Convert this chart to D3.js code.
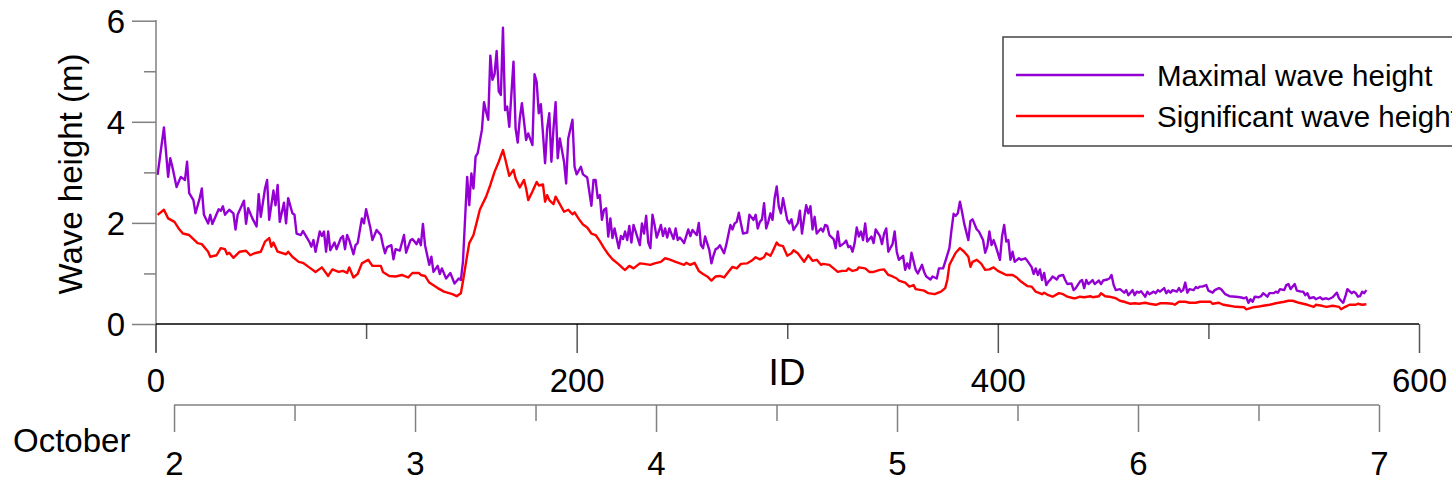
<!DOCTYPE html>
<html>
<head>
<meta charset="utf-8">
<script src="https://cdn.jsdelivr.net/npm/d3@7"></script>
<style>
  html, body { margin: 0; padding: 0; background: #ffffff; }
  svg { display: block; font-family: Arial, "Liberation Sans", Helvetica, sans-serif; }
</style>
</head>
<body>
<svg id="chart" width="1452" height="486"></svg>
<script>
// Wave record: [ID, height in metres]
const maxWaveHeight = [
  [1,2.95],[4,3.89],[6,2.91],[7,3.28],[8,3.11],[10,2.71],[12,2.91],[14,2.85],[15,3.21],[16,2.59],
  [18,2.45],[19,2.19],[21,2.49],[22,2.68],[23,2.16],[25,1.99],[26,2.16],[27,1.98],[30,2.27],[31,2.24],
  [32,2.33],[33,2.16],[35,2.26],[37,2.19],[38,1.87],[39,2.16],[42,2.44],[43,1.98],[44,2.29],[46,2.09],
  [48,1.93],[49,2.57],[50,2.12],[52,2.68],[53,2.85],[54,2.06],[56,2.64],[57,2.35],[58,2.75],[59,2.02],
  [61,2.40],[62,1.99],[63,2.49],[65,2.19],[66,2.16],[67,1.79],[69,1.76],[70,1.84],[73,1.63],[74,1.53],
  [75,1.66],[76,1.43],[78,1.83],[79,1.74],[80,1.83],[81,1.43],[82,1.83],[83,1.46],[85,1.61],[86,1.48],
  [88,1.70],[89,1.74],[90,1.48],[91,1.76],[92,1.66],[94,1.38],[95,1.56],[96,1.60],[98,2.09],[99,1.99],
  [100,2.27],[102,1.91],[103,1.66],[105,1.86],[107,1.76],[108,1.56],[109,1.40],[110,1.52],[112,1.56],[113,1.28],
  [114,1.48],[116,1.45],[118,1.76],[119,1.41],[121,1.65],[122,1.68],[124,1.58],[125,1.68],[126,1.56],[127,1.98],
  [128,1.56],[130,1.17],[131,1.33],[132,1.03],[134,1.15],[135,0.99],[136,1.10],[138,0.90],[140,1.01],[142,0.80],
  [144,0.90],[145,0.87],[146,1.23],[148,2.91],[149,2.35],[150,2.98],[151,2.68],[152,3.31],[153,3.38],[155,3.84],
  [156,4.39],[157,4.20],[158,4.04],[159,5.31],[160,4.83],[161,4.94],[162,5.40],[163,4.60],[164,4.53],[165,5.86],
  [166,4.23],[167,4.30],[168,3.90],[170,5.19],[171,3.87],[172,3.59],[173,4.07],[174,4.37],[176,3.64],[177,3.77],
  [179,3.54],[180,4.94],[181,4.79],[182,4.17],[183,4.35],[185,3.18],[186,3.87],[187,4.17],[188,3.21],[189,3.87],
  [190,4.39],[191,3.28],[192,3.67],[193,3.44],[194,3.21],[195,2.78],[196,3.67],[198,4.04],[199,3.11],[200,2.96],
  [202,3.11],[203,2.96],[205,2.90],[207,2.34],[208,2.85],[209,2.85],[210,2.49],[211,2.55],[212,2.06],[213,2.26],
  [214,2.29],[215,1.73],[216,2.09],[217,1.70],[218,1.89],[220,1.50],[221,1.74],[222,1.68],[223,1.83],[224,1.66],
  [225,1.94],[226,1.61],[227,1.96],[228,1.83],[230,1.56],[231,1.99],[232,1.79],[233,2.14],[234,1.61],[235,1.50],
  [236,2.16],[237,1.96],[238,1.71],[239,1.83],[240,1.96],[241,1.74],[242,1.89],[243,1.71],[244,1.89],[246,1.68],
  [247,1.89],[248,1.66],[249,1.71],[250,1.66],[251,1.60],[253,1.87],[254,1.74],[255,1.86],[257,1.76],[258,2.00],
  [259,1.56],[260,1.50],[261,1.73],[263,1.46],[264,1.20],[265,1.36],[266,1.48],[267,1.50],[268,1.56],[269,1.48],
  [270,1.40],[271,1.56],[273,1.96],[274,1.87],[275,1.99],[276,2.02],[277,2.20],[278,1.99],[279,1.79],[281,1.81],
  [282,2.16],[284,2.06],[285,2.16],[286,1.89],[287,2.02],[288,2.07],[289,2.39],[290,1.89],[291,2.02],[292,2.19],
  [293,2.06],[294,2.49],[295,2.72],[296,2.32],[297,2.19],[298,2.49],[300,2.06],[301,1.99],[302,2.07],[303,1.86],
  [305,1.99],[306,2.24],[307,1.79],[308,2.09],[309,2.35],[310,2.19],[311,2.33],[312,1.87],[313,2.12],[314,1.79],
  [316,1.89],[317,1.83],[318,1.96],[319,1.94],[320,1.76],[322,1.68],[323,1.50],[324,1.83],[325,1.54],[327,1.60],
  [328,1.65],[329,1.52],[330,1.54],[331,1.43],[332,1.60],[333,1.91],[334,1.73],[335,1.83],[336,1.66],[337,1.99],
  [338,1.63],[340,1.73],[341,1.60],[342,1.87],[344,1.74],[345,1.58],[346,1.79],[347,1.89],[348,1.43],[350,1.58],
  [351,1.83],[352,1.43],[353,1.27],[355,1.35],[356,1.07],[357,1.20],[358,1.10],[359,1.41],[361,1.07],[362,1.00],
  [364,1.17],[365,1.03],[366,0.94],[368,0.88],[369,0.94],[371,0.90],[372,1.10],[374,1.10],[375,1.23],[377,1.50],
  [378,1.86],[379,2.18],[380,2.14],[381,2.19],[382,2.42],[383,2.22],[384,1.99],[386,1.66],[387,2.04],[388,2.07],
  [390,1.87],[391,1.83],[393,1.66],[394,1.41],[395,1.53],[396,1.83],[397,1.56],[398,1.66],[399,1.54],[401,1.27],
  [402,1.73],[403,1.96],[404,1.63],[405,1.66],[406,1.27],[407,1.43],[408,1.23],[410,1.30],[411,1.27],[413,1.30],
  [414,1.25],[416,1.13],[417,0.99],[418,1.10],[419,0.97],[420,1.08],[421,0.87],[422,1.01],[423,0.77],[424,0.84],
  [425,0.88],[426,0.94],[428,0.88],[429,0.95],[431,0.97],[432,0.87],[433,0.79],[435,0.80],[436,0.67],[437,0.71],
  [439,0.84],[440,0.87],[441,0.71],[442,0.87],[443,0.79],[445,0.87],[446,0.79],[448,0.86],[449,0.79],[450,0.86],
  [452,0.88],[453,0.90],[454,0.97],[455,0.77],[456,0.67],[458,0.69],[460,0.62],[461,0.67],[462,0.57],[464,0.67],
  [465,0.57],[466,0.64],[467,0.62],[468,0.65],[470,0.54],[471,0.64],[472,0.59],[474,0.64],[475,0.61],[476,0.67],
  [477,0.64],[479,0.71],[480,0.61],[481,0.66],[482,0.62],[483,0.67],[485,0.64],[486,0.71],[487,0.64],[488,0.67],
  [489,0.82],[490,0.62],[491,0.69],[493,0.67],[494,0.73],[495,0.71],[496,0.74],[497,0.74],[499,0.77],[500,0.66],
  [502,0.62],[503,0.67],[505,0.71],[506,0.69],[508,0.59],[510,0.55],[513,0.54],[515,0.53],[517,0.51],[518,0.53],
  [519,0.42],[520,0.49],[521,0.44],[522,0.54],[524,0.53],[525,0.55],[526,0.61],[528,0.54],[529,0.61],[531,0.61],
  [532,0.64],[533,0.62],[534,0.69],[536,0.67],[537,0.77],[538,0.79],[539,0.69],[540,0.74],[541,0.79],[542,0.66],
  [544,0.64],[545,0.64],[546,0.57],[547,0.61],[548,0.51],[550,0.53],[551,0.49],[553,0.53],[554,0.49],[556,0.51],
  [557,0.49],[559,0.53],[561,0.62],[562,0.51],[563,0.46],[564,0.42],[565,0.54],[566,0.69],[568,0.61],[569,0.64],
  [570,0.61],[571,0.54],[572,0.55],[573,0.64],[574,0.61],[575,0.67]
];

const sigWaveHeight = [
  [1,2.16],[4,2.26],[6,2.09],[9,2.02],[11,1.89],[13,1.79],[16,1.76],[20,1.60],[22,1.58],[25,1.43],
  [26,1.33],[29,1.36],[31,1.50],[33,1.48],[34,1.38],[35,1.41],[37,1.31],[40,1.43],[43,1.45],[45,1.36],
  [47,1.40],[50,1.43],[52,1.63],[54,1.70],[55,1.53],[56,1.61],[58,1.43],[62,1.38],[63,1.43],[65,1.33],
  [68,1.23],[70,1.21],[73,1.12],[76,1.03],[79,1.12],[82,0.95],[84,1.08],[87,1.03],[89,1.05],[91,1.01],
  [92,1.12],[94,0.92],[96,0.99],[98,1.20],[101,1.27],[103,1.15],[107,1.15],[108,1.03],[111,0.95],[114,0.94],
  [117,0.97],[120,0.92],[122,1.01],[125,1.01],[126,0.97],[128,0.95],[130,0.82],[134,0.71],[137,0.64],[141,0.59],
  [143,0.55],[145,0.61],[146,0.84],[148,1.36],[149,1.60],[151,1.76],[153,2.09],[154,2.26],[157,2.52],[159,2.75],
  [161,3.01],[163,3.21],[165,3.44],[166,3.28],[168,2.93],[170,3.05],[171,2.88],[173,2.70],[175,2.85],[176,2.68],
  [177,2.45],[179,2.62],[181,2.81],[182,2.74],[184,2.76],[185,2.42],[186,2.55],[187,2.45],[189,2.37],[190,2.52],
  [192,2.37],[194,2.22],[196,2.26],[198,2.17],[199,2.21],[201,2.08],[203,1.97],[205,1.91],[207,1.79],[209,1.76],
  [211,1.64],[213,1.50],[215,1.38],[217,1.28],[220,1.18],[222,1.10],[223,1.07],[225,1.15],[227,1.10],[230,1.20],
  [232,1.19],[235,1.17],[237,1.20],[240,1.23],[242,1.30],[244,1.28],[247,1.23],[249,1.20],[251,1.17],[252,1.21],
  [254,1.17],[256,1.21],[258,1.05],[260,0.99],[262,0.94],[264,0.86],[266,0.94],[268,0.95],[270,0.92],[272,1.03],
  [274,1.13],[276,1.10],[278,1.19],[281,1.20],[283,1.25],[285,1.32],[287,1.28],[289,1.32],[290,1.40],[292,1.35],
  [293,1.43],[295,1.61],[296,1.56],[298,1.54],[300,1.35],[302,1.40],[303,1.46],[305,1.40],[308,1.23],[310,1.36],
  [312,1.25],[314,1.27],[316,1.17],[317,1.19],[320,1.17],[322,1.10],[324,1.03],[326,1.05],[328,1.05],[329,1.10],
  [331,1.05],[333,1.07],[334,1.12],[337,1.10],[339,1.03],[341,1.03],[344,1.07],[346,1.08],[348,0.97],[350,0.94],
  [352,0.90],[353,0.86],[356,0.82],[358,0.74],[360,0.77],[361,0.69],[365,0.66],[367,0.61],[370,0.59],[373,0.64],
  [375,0.71],[376,0.87],[377,1.17],[379,1.33],[380,1.41],[382,1.50],[384,1.43],[386,1.33],[387,1.13],[388,1.23],
  [390,1.27],[392,1.20],[394,1.07],[396,1.08],[398,1.12],[400,1.05],[402,1.01],[404,0.97],[407,0.97],[409,0.92],
  [411,0.84],[414,0.75],[416,0.74],[418,0.64],[421,0.59],[422,0.62],[424,0.57],[426,0.54],[429,0.61],[431,0.59],
  [433,0.54],[436,0.51],[437,0.51],[439,0.54],[441,0.53],[444,0.55],[445,0.53],[448,0.55],[449,0.61],[451,0.55],
  [453,0.54],[456,0.51],[458,0.46],[460,0.44],[463,0.40],[465,0.41],[467,0.40],[470,0.42],[472,0.40],[475,0.38],
  [477,0.41],[480,0.41],[483,0.40],[484,0.38],[486,0.44],[489,0.44],[491,0.42],[494,0.42],[496,0.44],[498,0.44],
  [501,0.44],[502,0.40],[505,0.42],[507,0.38],[510,0.36],[513,0.34],[517,0.33],[518,0.29],[521,0.33],[523,0.34],
  [526,0.36],[529,0.38],[532,0.41],[536,0.44],[538,0.46],[540,0.46],[543,0.42],[545,0.40],[547,0.38],[550,0.34],
  [551,0.38],[554,0.36],[556,0.34],[559,0.36],[562,0.34],[563,0.29],[565,0.34],[567,0.38],[570,0.38],[571,0.40],
  [573,0.38],[575,0.39]
];

const seriesNames = ["Maximal wave height", "Significant wave height"];
const seriesColors = ["#9400D3", "#FF0000"];

const idTicks = [0, 200, 400, 600];
const idMinorTicks = [100, 300, 500];
const heightTicks = [0, 2, 4, 6];
const heightMinorTicks = [1, 3, 5];
const dayTicks = [2, 3, 4, 5, 6, 7];
const dayMinorTicks = [2.5, 3.5, 4.5, 5.5, 6.5];
const dayIdSpan = [8.8, 581];     // record IDs falling on 2 and 7 October
const monthLabel = "October";
const xTitle = "ID";
const yTitle = "Wave height (m)";

const svg = d3.select("#chart");
const FONT = 'Arial, "Liberation Sans", Helvetica, sans-serif';

const x = d3.scaleLinear().domain([0, 600]).range([155.5, 1419]);
const y = d3.scaleLinear().domain([0, 6]).range([324, 20.7]);
const xDay = d3.scaleLinear().domain([2, 7]).range(dayIdSpan.map(x));

function styleAxis(g, color, fontSize) {
  g.select(".domain").remove();
  g.selectAll(".tick line").attr("stroke", color).attr("stroke-width", 1.5);
  g.selectAll(".tick text")
    .attr("fill", "#000")
    .attr("font-family", FONT)
    .attr("font-size", fontSize);
}

// ---- series lines ----
const line = d3.line().x(d => x(d[0])).y(d => y(d[1]));
svg.append("path").datum(maxWaveHeight)
  .attr("d", line).attr("fill", "none")
  .attr("stroke", seriesColors[0]).attr("stroke-width", 2.4).attr("stroke-linejoin", "round");
svg.append("path").datum(sigWaveHeight)
  .attr("d", line).attr("fill", "none")
  .attr("stroke", seriesColors[1]).attr("stroke-width", 2.4).attr("stroke-linejoin", "round");

// ---- y axis ----
const gy = svg.append("g").attr("transform", "translate(156,0)");
gy.append("line").attr("x1", 0).attr("x2", 0).attr("y1", 20).attr("y2", 352)
  .attr("stroke", "#808080").attr("stroke-width", 1.5);
gy.append("g")
  .call(d3.axisLeft(y).tickValues(heightMinorTicks).tickSize(12).tickFormat(""))
  .call(g => styleAxis(g, "#808080", 33));
gy.append("g")
  .call(d3.axisLeft(y).tickValues(heightTicks).tickSize(24).tickPadding(7).tickFormat(d3.format("d")))
  .call(g => styleAxis(g, "#808080", 33))
  .call(g => g.selectAll(".tick text").attr("dy", "0.36em"));

svg.append("text")
  .attr("transform", "translate(82,174) rotate(-90)")
  .attr("text-anchor", "middle")
  .attr("font-family", FONT).attr("font-size", 33).attr("fill", "#000")
  .text(yTitle);

// ---- ID axis ----
const gx = svg.append("g").attr("transform", "translate(0,324)");
gx.append("g")
  .call(d3.axisBottom(x).tickValues(idMinorTicks).tickSize(15).tickFormat(""))
  .call(g => styleAxis(g, "#555", 33));
gx.append("g")
  .call(d3.axisBottom(x).tickValues(idTicks).tickSize(29).tickPadding(16).tickFormat(d3.format("d")))
  .call(g => styleAxis(g, "#555", 33));
gx.append("line").attr("x1", 156).attr("x2", x(600)).attr("y1", 0).attr("y2", 0)
  .attr("stroke", "#000").attr("stroke-width", 1.5);

svg.append("text")
  .attr("x", 787).attr("y", 385)
  .attr("text-anchor", "middle")
  .attr("font-family", FONT).attr("font-size", 37).attr("fill", "#000")
  .text(xTitle);

// ---- date axis ----
const gd = svg.append("g").attr("transform", "translate(0,405)");
gd.append("line").attr("x1", xDay(2)).attr("x2", xDay(7)).attr("y1", 0).attr("y2", 0)
  .attr("stroke", "#808080").attr("stroke-width", 1.5);
gd.append("g")
  .call(d3.axisBottom(xDay).tickValues(dayMinorTicks).tickSize(16).tickFormat(""))
  .call(g => styleAxis(g, "#808080", 33));
gd.append("g")
  .call(d3.axisBottom(xDay).tickValues(dayTicks).tickSize(27).tickPadding(20).tickFormat(d3.format("d")))
  .call(g => styleAxis(g, "#808080", 33));

svg.append("text")
  .attr("x", 13).attr("y", 452)
  .attr("font-family", FONT).attr("font-size", 33).attr("fill", "#000")
  .text(monthLabel);

// ---- legend (box runs on past the right edge) ----
const legend = svg.append("g");
legend.append("rect")
  .attr("x", 1003).attr("y", 37).attr("width", 480).attr("height", 109)
  .attr("fill", "#fff").attr("stroke", "#444").attr("stroke-width", 1.5);
seriesNames.forEach((name, i) => {
  const ly = 75 + i * 41;
  legend.append("line")
    .attr("x1", 1016).attr("x2", 1144).attr("y1", ly).attr("y2", ly)
    .attr("stroke", seriesColors[i]).attr("stroke-width", 2.4);
  legend.append("text")
    .attr("x", 1157).attr("y", ly + 11)
    .attr("font-family", FONT).attr("font-size", 29.5).attr("fill", "#000")
    .text(name);
});
</script>
</body>
</html>
